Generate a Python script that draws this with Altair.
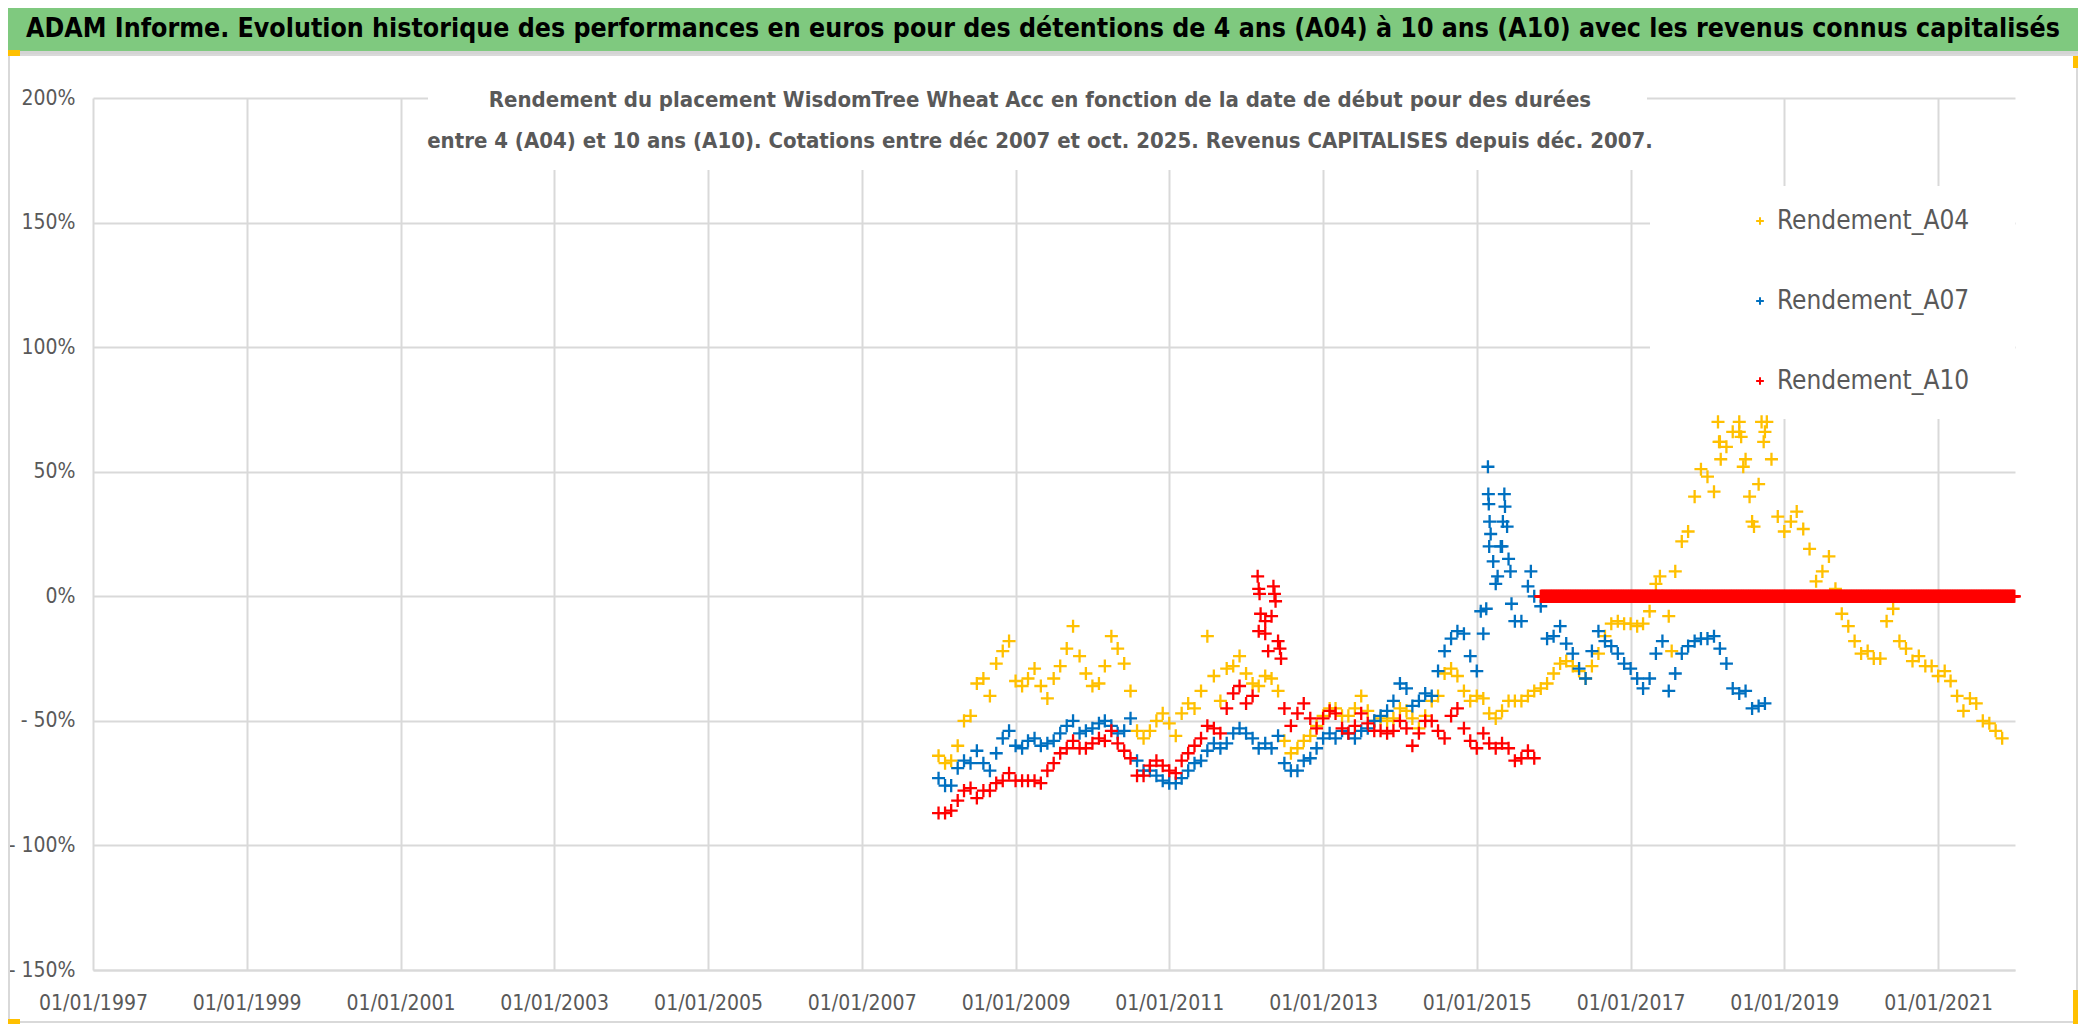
import altair as alt
import pandas as pd

# ---------------- data (values in %) ----------------
SERIES = ["Rendement_A04", "Rendement_A07", "Rendement_A10"]
COLORS = ["#FFC000", "#0070C0", "#FF0000"]

# monthly values, first value = January 2008
A04_START = "2008-01-01"
A04 = [
    -64, -67, -66, -60, -50, -48, -35, -33, -40, -27, -22, -18,   # 2008
    -34, -36, -33, -29, -36, -41, -33, -28, -21, -12, -24, -31,   # 2009
    -36, -35, -28, -16, -21, -27, -38, -54, -57, -54, -50, -47,   # 2010
    -51, -56, -47, -43, -45, -38, -16, -32, -42, -29, -28, -24,   # 2011
    -31, -35, -36, -32, -33, -38, -58, -63, -61, -58, -56, -52,   # 2012
    -48, -45, -45, -48, -48, -45, -40, -46, -50, -49, -50, -49,   # 2013
    -45, -46, -49, -53, -48, -42, -40, -31, -29, -32, -38, -42,   # 2014
    -40, -41, -47, -49, -46, -42, -42, -42, -40, -38, -37, -35,   # 2015
    -31, -27, -26, -28, -30, -33, -28, -23, -16, -11, -10, -11,   # 2016
    -11, -12, -11, -6, 5, 0, -8, 10, 22, 26, 40, 51,              # 2017
    48, 42, 62, 60, 66, 66, 55, 30, 45, 66, 55, 32,               # 2018
    26, 30, 34, 27, 19, 6, 10, 16, 3, -7, -12, -18,               # 2019
    -23, -22, -25, -25, -10, -5, -18, -21, -26, -24, -28, -28,    # 2020
    -32, -30, -34, -40, -46, -41, -43, -50, -51, -54, -57,        # 2021
]
A04_EXTRA_DATES = ["2018-02-20", "2018-02-25", "2018-03-05", "2018-06-01", "2018-06-10",
                   "2018-06-20", "2018-07-20", "2018-08-10", "2018-09-15", "2018-09-25",
                   "2018-10-10", "2017-07-15", "2017-05-20"]
A04_EXTRA = [70, 62, 55, 70, 64, 52, 40, 28, 70, 62, 70, -22, 8]

A07_START = "2008-01-01"
A07 = [
    -73, -76, -76, -69, -66, -67, -62, -67, -70, -63, -57, -54,   # 2008
    -60, -61, -58, -57, -60, -59, -58, -55, -52, -50, -55, -54,   # 2009
    -53, -51, -50, -52, -55, -54, -49, -66, -70, -70, -72, -74,   # 2010
    -75, -75, -73, -70, -67, -66, -62, -59, -61, -59, -55, -53,   # 2011
    -55, -57, -61, -59, -61, -56, -67, -70, -70, -66, -65, -61,   # 2012
    -57, -55, -57, -54, -55, -57, -54, -53, -50, -48, -46, -42,   # 2013
    -35, -37, -44, -42, -39, -40, -30, -22, -17, -14, -15, -24,   # 2014
    -30, -15, 20, 5, 20, 15, -10, -10, 4, 0, -4, -17,             # 2015
    -16, -12, -19, -23, -29, -33, -22, -14, -18, -20, -23, -27,   # 2016
    -29, -33, -37, -33, -23, -18, -38, -31, -23, -20, -18, -17,   # 2017
    -17, -16, -21, -27, -37, -39, -38, -45, -44, -43,             # 2018
]
A07_EXTRA_DATES = ["2015-01-20", "2015-02-15", "2015-02-23", "2015-02-25", "2015-02-27",
                   "2015-03-03", "2015-03-08", "2015-03-20", "2015-04-10", "2015-04-25",
                   "2015-05-05", "2015-05-12", "2015-05-15", "2015-05-25", "2015-06-10",
                   "2015-06-15", "2015-09-15"]
A07_EXTRA = [-6, -5, 52, 41, 37, 30, 25, 14, 8, 20, 30, 41, 36, 28, 10, -3, 10]

A10_START = "2008-01-01"
A10 = [
    -87, -87, -86, -82, -78, -77, -81, -78, -78, -75, -74, -71,   # 2008
    -74, -74, -74, -74, -75, -70, -67, -63, -61, -58, -61, -61,   # 2009
    -59, -57, -58, -54, -59, -62, -65, -72, -72, -68, -66, -68,   # 2010
    -70, -71, -66, -63, -60, -57, -52, -53, -55, -45, -39, -36,   # 2011
    -43, -40, -14, -15, -8, -18, -45, -52, -47, -43, -49, -53,    # 2012
    -49, -46, -47, -53, -55, -52, -47, -51, -54, -54, -55, -54,   # 2013
    -50, -53, -60, -55, -50, -50, -54, -57, -48, -45, -53, -58,   # 2014
    -61, -55, -59, -61, -59, -61, -66, -65, -62, -65,             # 2015
]
A10_EXTRA_DATES = ["2012-02-25", "2012-03-01", "2012-03-05", "2012-03-10", "2012-04-01",
                   "2012-04-15", "2012-05-10", "2012-05-15", "2012-05-20", "2012-06-10",
                   "2012-06-15"]
A10_EXTRA = [8, 3, 1, -7, -10, -22, 4, 1, -2, -21, -25]
# after the last A10 value the series is flat at 0 % up to the end of the axis
A10_ZERO_FROM, A10_ZERO_TO = "2015-11-01", "2021-12-31"

X_TICK_YEARS = list(range(1997, 2022, 2))
Y_TICKS = [-150, -100, -50, 0, 50, 100, 150, 200]

TITLE = ("ADAM Informe. Evolution historique des performances en euros pour des détentions "
         "de 4 ans (A04) à 10 ans (A10) avec les revenus connus capitalisés")
SUB1 = "Rendement du placement WisdomTree Wheat Acc en fonction de la date de début pour des durées"
SUB2 = ("entre 4 (A04) et 10 ans (A10). Cotations entre déc 2007 et oct. 2025. "
        "Revenus CAPITALISES depuis déc. 2007.")

# ---------------- build table ----------------
def monthly(name, start, vals):
    d = pd.date_range(start, periods=len(vals), freq="MS")
    return pd.DataFrame({"date": d.strftime("%Y-%m-%d"), "value": vals, "serie": name})

def extra(name, dates, vals):
    return pd.DataFrame({"date": dates, "value": vals, "serie": name})

zero_dates = pd.date_range(A10_ZERO_FROM, A10_ZERO_TO, freq="3D")
frames = [
    monthly(SERIES[0], A04_START, A04), extra(SERIES[0], A04_EXTRA_DATES, A04_EXTRA),
    monthly(SERIES[1], A07_START, A07), extra(SERIES[1], A07_EXTRA_DATES, A07_EXTRA),
    monthly(SERIES[2], A10_START, A10), extra(SERIES[2], A10_EXTRA_DATES, A10_EXTRA),
    pd.DataFrame({"date": zero_dates.strftime("%Y-%m-%d"), "value": 0, "serie": SERIES[2]}),
]
df = pd.concat(frames, ignore_index=True)
df["order"] = range(len(df))

def ms(y):
    return int(pd.Timestamp(f"{y}-01-01").value // 10**6)

FONT = "DejaVu Sans Condensed, DejaVu Sans, sans-serif"
GRID = "#D9D9D9"
TXT = "#595959"
CROSS = "M-1,0L1,0M0,-1L0,1"

W, H = 1922, 872
dummy = alt.Chart(pd.DataFrame({"k": [0]}))

def box(x, x2, y, y2, **kw):
    return dummy.mark_rect(**kw).encode(
        x=alt.value(x), x2=alt.value(x2), y=alt.value(y), y2=alt.value(y2))

def label(txt, x, y, size, weight="normal", color=TXT):
    return dummy.mark_text(align="center", baseline="middle", font=FONT, fontSize=size,
                           fontWeight=weight, color=color).encode(
        x=alt.value(x), y=alt.value(y), text=alt.value(txt))

points = alt.Chart(df).mark_point(
    shape=CROSS, filled=False, size=170, strokeWidth=2.3, opacity=1
).encode(
    x=alt.X("date:T", title=None,
            scale=alt.Scale(type="utc", domain=[ms(1997), ms(2022)]),
            axis=alt.Axis(values=[ms(y) for y in X_TICK_YEARS],
                          labelExpr="utcFormat(datum.value, '%d/%m/%Y')",
                          grid=True, ticks=False, labelPadding=22, labelFlush=False,
                          labelOverlap=False)),
    y=alt.Y("value:Q", title=None,
            scale=alt.Scale(domain=[-150, 200], nice=False, zero=False),
            axis=alt.Axis(values=Y_TICKS, ticks=False, labelPadding=18, domain=False,
                          labelExpr="datum.value < 0 ? '- ' + abs(datum.value) + '%' : datum.value + '%'")),
    color=alt.Color("serie:N", scale=alt.Scale(domain=SERIES, range=COLORS),
                    legend=alt.Legend(orient="none", legendX=1654, legendY=110, title=None,
                                      labelFontSize=26, labelFont=FONT, labelColor=TXT,
                                      labelLimit=400,
                                      symbolType=CROSS, symbolSize=60, symbolStrokeWidth=2,
                                      rowPadding=54, labelOffset=4, padding=0)),
    order=alt.Order("order:Q"),
)

layers = [
    box(335, 1554, -25, 72, color="white"),                   # subtitle background
    box(1557, 1922, 88, 321, color="white"),                  # legend background
    points,
    box(-85, 1985, -90, -47, color="#7FC97F"),                # green banner
    box(-85, 1985, -47, -43, color="#D4D4D4"),                # line under banner
    box(-84, 1984, -43, 924, filled=False, stroke=GRID, strokeWidth=2),
    box(-85, -73, -48, -42, color="#FFC000"),
    box(1980, 1985, -42, -30, color="#FFC000"),
    box(1980, 1985, 892, 926, color="#FFC000"),
    box(-85, -73, 921, 926, color="#FFC000"),
    label(TITLE, 950, -69, 26.5, "bold", "black"),
    label(SUB1, 947, 2, 22, "bold"),
    label(SUB2, 947, 43, 22, "bold"),
]

chart = alt.layer(*layers).properties(
    width=W, height=H,
    autosize=alt.AutoSizeParams(type="none"),
    padding={"left": 85, "top": 90, "right": 63, "bottom": 54},
).configure_view(stroke=None).configure_axis(
    gridColor=GRID, gridWidth=2, domainColor=GRID, domainWidth=2,
    labelFont=FONT, labelFontSize=21, labelColor=TXT,
)

chart.save("out.html", embed_options={"renderer": "svg", "actions": False})
